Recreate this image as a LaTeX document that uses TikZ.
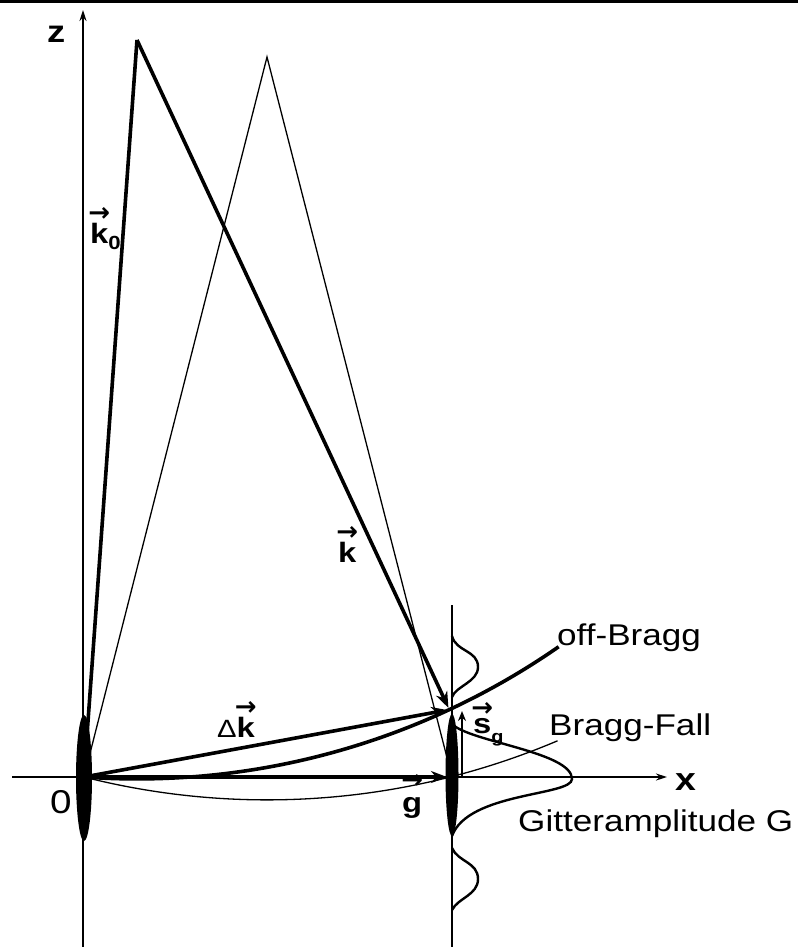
\documentclass[tikz,border=0pt]{standalone}
\usepackage{fontspec}
\setmainfont{Liberation Sans}[FakeStretch=1.17]
\newfontfamily\arrfont{DejaVu Sans}
\usetikzlibrary{arrows.meta,calc}
\newcommand\vecl[2][0.78em]{\leavevmode\setbox0\hbox{\bfseries #2}%
  \makebox[\wd0]{\raisebox{#1}[0pt][0pt]{\makebox[0pt]{\arrfont\bfseries\fontsize{26}{26}\selectfont →}}}%
  \kern-\wd0\box0}
\begin{document}
\begin{tikzpicture}[x=1pt,y=-1pt,
  thinline/.style={line width=1.3pt},
  thickline/.style={line width=3.6pt},
  axisline/.style={line width=1.6pt},
  vecarrow/.style={thickline,-{Stealth[length=16pt,width=12pt,inset=5pt]}},
  lbl/.style={inner sep=0pt, font=\fontsize{30}{32}\selectfont},
  vlbl/.style={inner sep=0pt, font=\fontsize{28}{30}\selectfont\bfseries},
  amp/.style={line width=2.4pt},
]
\useasboundingbox (0,0) rectangle (798,947);
\fill (0,0) rectangle (798,3.5);
% coordinates
\coordinate (O) at (84,777);
\coordinate (C1) at (137,40);
\coordinate (C2) at (267,57);
\coordinate (G) at (452,777);
\coordinate (P) at ($(C1)+(65:738.9)$);
\coordinate (zbot) at (83,947);
\coordinate (ztop) at (83,10);
\coordinate (xl) at (12,777);
\coordinate (xr) at (667,777);
\coordinate (vtop) at (452,605);
\coordinate (vbot) at (452,947);
\coordinate (sgb) at (462,777);
\coordinate (sgt) at (462,711);
% axes
\draw[axisline,-{Stealth[length=11pt,width=7pt]}] (zbot) -- (ztop);
\draw[axisline,-{Stealth[length=11pt,width=7pt]}] (xl) -- (xr);
\draw[axisline] (vtop) -- (vbot);
% thin Bragg construction
\draw[thinline, line join=miter] (O) -- (C2) -- (G);
\draw[thinline] (O) arc[start angle=104.25, end angle=67, radius=743.5];
% off-Bragg Ewald arc
\draw[thickline] (O) arc[start angle=94.11, end angle=55.2, radius=738.9];
% vectors
\draw[thickline, line join=miter] (O) -- (C1);
\draw[vecarrow, shorten >=2pt] (C1) -- (P);
\draw[vecarrow, shorten >=2pt] (O) -- (P);
\draw[vecarrow, shorten >=5pt] (O) -- (G);
\draw[line width=2pt,-{Stealth[length=10pt,width=8pt]}] (sgb) -- (sgt);
% amplitude profile
\draw[amp] (452,636) .. controls (456,652) and (478,650) .. (478,667)
  .. controls (478,682) and (456,686) .. (452,697);
\draw[amp] (452,724) .. controls (470,742) and (572,752) .. (572,779)
  .. controls (572,796) and (468,792) .. (452,836);
\draw[amp] (452,848) .. controls (458,862) and (478,862) .. (478,879)
  .. controls (478,895) and (458,898) .. (452,910);
% blobs
\fill (84,778) ellipse [x radius=8, y radius=63];
\fill (452,775) ellipse [x radius=6.5, y radius=61];
% labels
\node[inner sep=0pt, anchor=base west, font=\fontsize{31}{32}\selectfont\bfseries] (zlab) at (47,43) {z};
\node[inner sep=0pt, anchor=base west, font=\fontsize{33}{34}\selectfont] (olab) at (50,813) {0};
\node[inner sep=0pt, anchor=base west, font=\fontsize{32}{34}\selectfont\bfseries] (xlab) at (675,790) {x};
\node[vlbl, anchor=base west] (k0lab) at (90,243) {\vecl{k}\raisebox{-6pt}{\fontsize{19}{19}\selectfont 0}};
\node[vlbl, anchor=base west] (klab) at (338,562) {\vecl{k}};
\node[vlbl, anchor=base west] (dklab) at (217,737) {{\mdseries\fontsize{25}{26}\selectfont Δ}\vecl{k}};
\node[vlbl, anchor=base west] (glab) at (402,812) {\vecl[0.85em]{g}};
\node[vlbl, anchor=base west] (sglab) at (473,733) {\vecl[0.6em]{s}\raisebox{-9pt}{\fontsize{17}{17}\selectfont g}};
\node[lbl, anchor=base west] (offlab) at (557,645) {off-Bragg};
\node[lbl, anchor=base west] (bflab) at (549,735) {Bragg-Fall};
\node[lbl, anchor=base west] (galab) at (518,831) {Gitteramplitude G};
\end{tikzpicture}
\end{document}
